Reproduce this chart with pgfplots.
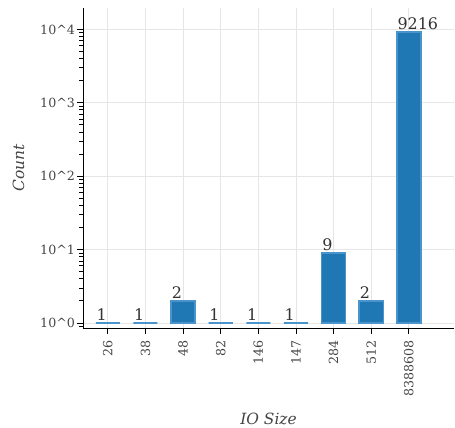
\documentclass[border=0pt]{standalone}
\usepackage{fontspec}
\setmainfont{DejaVu Serif}
\usepackage{pgfplots}
\pgfplotsset{compat=1.18}
\definecolor{barblue}{HTML}{1F77B4}
\definecolor{baredge}{HTML}{4A94CC}
\definecolor{txtgray}{HTML}{444444}
\definecolor{lblgray}{HTML}{333333}
\definecolor{gridgray}{HTML}{E6E6E6}
\newcommand{\caret}{{\char"5E}}
\begin{document}
\begin{tikzpicture}
\begin{axis}[
  scale only axis, width=371bp, height=320bp,
  ymode=log, log origin=0,
  ymin=0.855, ymax=19600,
  xmin=-0.66, xmax=9.2,
  axis x line*=bottom, axis y line*=left,
  axis line style={black, line width=0.9bp, -},
  ybar, bar width=0.64,
  xtick={0,1,2,3,4,5,6,7,8},
  xticklabels={\mbox{26},\mbox{38},\mbox{48},\mbox{82},\mbox{146},\mbox{147},\mbox{284},\mbox{512},\mbox{8388608}},
  x tick label style={rotate=90, anchor=east, font=\fontsize{12.7}{12.7}\selectfont, text=txtgray},
  xticklabel shift=3bp,
  ytick={1,10,100,1000,10000},
  yticklabels={\mbox{10\caret0},\mbox{10\caret1},\mbox{10\caret2},\mbox{10\caret3},\mbox{10\caret4}},
  minor ytick={0.9,2,3,4,5,6,7,8,9,20,30,40,50,60,70,80,90,200,300,400,500,600,700,800,900,2000,3000,4000,5000,6000,7000,8000,9000},
  y tick label style={font=\fontsize{12.7}{12.7}\selectfont, text=txtgray},
  yticklabel shift=-1.5bp,
  tick align=outside,
  major tick length=6bp, minor tick length=4bp,
  tick style={black, line width=0.9bp},
  grid=major, major grid style={gridgray, line width=0.8bp},
  xlabel={\itshape IO Size}, ylabel={\itshape Count},
  label style={font=\fontsize{15.5}{15.5}\selectfont, text=txtgray},
  xlabel style={at={([yshift=-90.5bp]rel axis cs:0.5,0)}, anchor=center},
  ylabel style={at={([xshift=-64.5bp]rel axis cs:0,0.5)}, anchor=center, rotate=0},
  point meta=rawy,
  nodes near coords={\pgfmathprintnumber[assume math mode=true, fixed, precision=0, 1000 sep={}]{\pgfplotspointmeta}},
  nodes near coords style={anchor=south west, xshift=-12bp, yshift=2bp, inner sep=0pt, font=\fontsize{16}{16}\selectfont, text=lblgray},
]
\addplot[fill=barblue, draw=baredge, line width=1.4bp] coordinates {
  (0,1) (1,1) (2,2) (3,1) (4,1) (5,1) (6,9) (7,2) (8,9216)
};
\path (rel axis cs:0,0) ++(-83bp,-99.3bp) coordinate (bl);
\path (rel axis cs:1,1) ++(1bp,8bp) coordinate (tr);
\end{axis}
\pgfresetboundingbox
\path[use as bounding box] (bl) rectangle (tr);
\end{tikzpicture}
\end{document}
